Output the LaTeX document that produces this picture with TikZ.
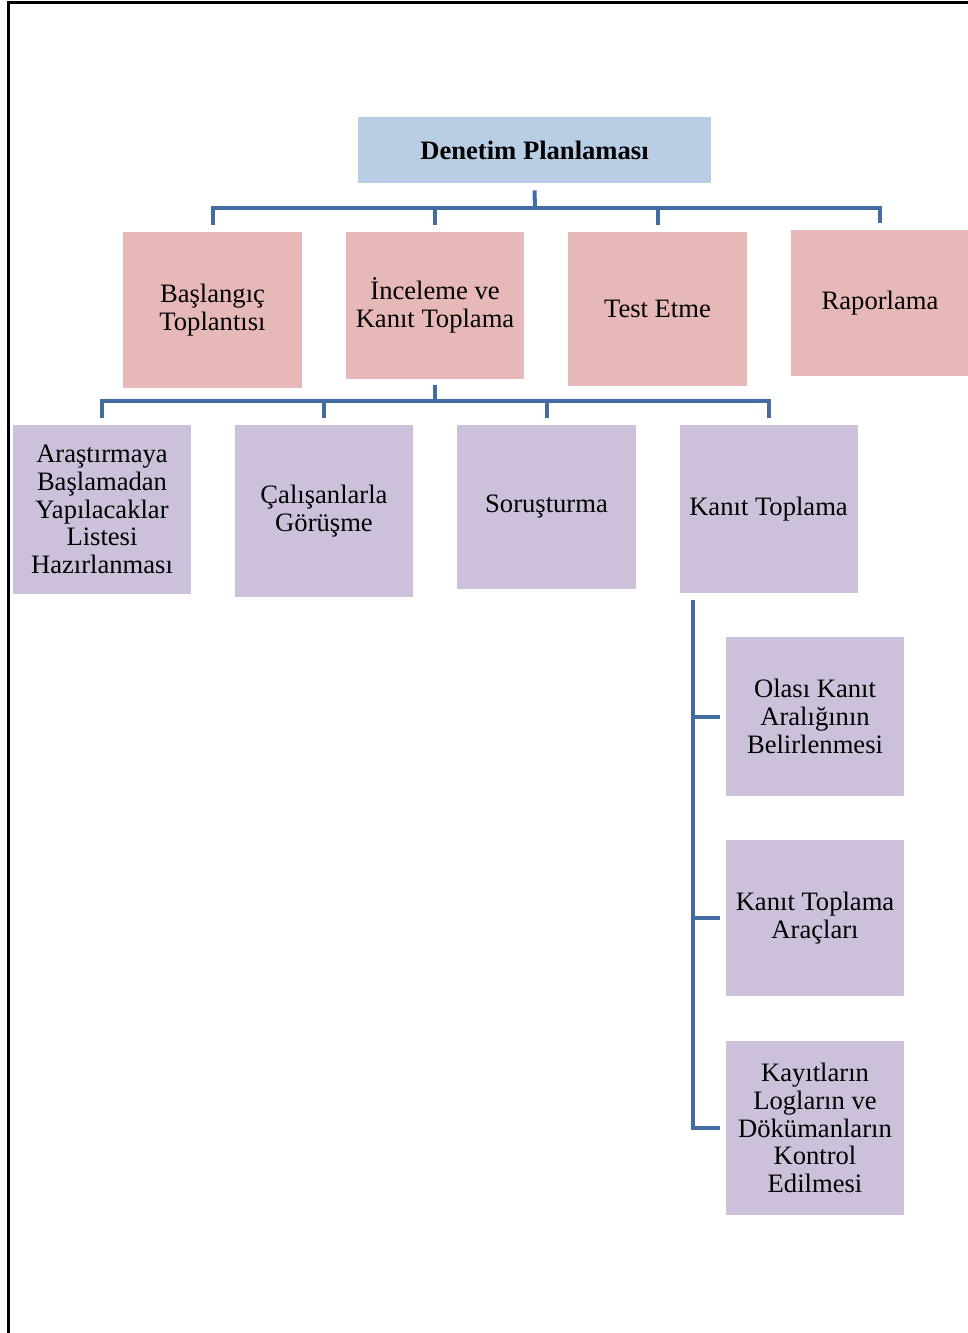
\documentclass[tikz,border=0pt]{standalone}
\usepackage{fontspec}
\setmainfont{Liberation Serif}
\usepackage{tikz}
\definecolor{planblue}{RGB}{185,205,229}
\definecolor{phasepink}{RGB}{230,184,183}
\definecolor{steplilac}{RGB}{204,192,218}
\definecolor{linkblue}{RGB}{66,108,162}
\tikzset{
  box/.style={inner sep=2pt,align=center,minimum width=89pt,
    font=\fontsize{13.3}{13.9}\selectfont},
  phase/.style={box,fill=phasepink},
  task/.style={box,fill=steplilac},
  link/.style={draw=linkblue,line width=2pt},
}

\begin{document}
\begin{tikzpicture}[x=0.5pt,y=-0.5pt]
      \useasboundingbox (0,0) rectangle (968,1333);
      \draw[line width=1.5pt] (8,1333) -- (8,2) -- (968,2);
      % top
      \node[box,fill=planblue,minimum width=176.5pt,minimum height=33pt,
        font=\bfseries\fontsize{13.3}{13.9}\selectfont] (plan) at (534.5,150) {Denetim Planlaması};
      % phases
      \node[phase,minimum width=89.5pt,minimum height=78pt] (bas) at (212.5,310) {Başlangıç\\Toplantısı};
      \node[phase,minimum height=73.5pt] (inc) at (435,305.5) {İnceleme ve\\Kanıt Toplama};
      \node[phase,minimum width=89.5pt,minimum height=77pt] (test) at (657.5,309) {Test Etme};
      \node[phase,minimum width=89.5pt,minimum height=73pt] (rap) at (880,303) {Raporlama};
      % steps
      \node[task,minimum height=84.5pt] (ara) at (102,509.5) {Araştırmaya\\Başlamadan\\Yapılacaklar\\Listesi\\Hazırlanması};
      \node[task,minimum height=86pt] (cal) at (324,511) {Çalışanlarla\\Görüşme};
      \node[task,minimum width=89.5pt,minimum height=82pt] (sor) at (546.5,507) {Soruşturma};
      \node[task,minimum height=84pt] (kan) at (768.5,509) {Kanıt Toplama};
      \node[task,minimum height=79.5pt] (ola) at (815,716.5) {Olası Kanıt\\Aralığının\\Belirlenmesi};
      \node[task,minimum height=78pt] (arc) at (815,918) {Kanıt Toplama\\Araçları};
      \node[task,minimum height=87pt] (kay) at (815,1128) {Kayıtların\\Logların ve\\Dökümanların\\Kontrol\\Edilmesi};
      % connectors
      \coordinate (bar1) at (535,208);
      \draw[link] (plan.south) ++(0,7) -- (bar1);
      \foreach \n in {bas,inc,test,rap}
        \draw[link] (\n.north) ++(0,-7) |- (bar1);
      \coordinate (bar2) at (435,401);
      \draw[link] (inc.south) ++(0,6) -- (bar2);
      \foreach \n in {ara,cal,sor,kan}
        \draw[link] (\n.north) ++(0,-7) |- (bar2);
      \coordinate (spine) at ([xshift=7pt,yshift=-3.5pt]kan.south west);
      \draw[link] (spine) |- ([xshift=-3pt]kay.west);
      \foreach \n in {ola,arc}
        \draw[link] ([xshift=-3pt]\n.west) -- (\n.west -| spine);
    \end{tikzpicture}
\end{document}
